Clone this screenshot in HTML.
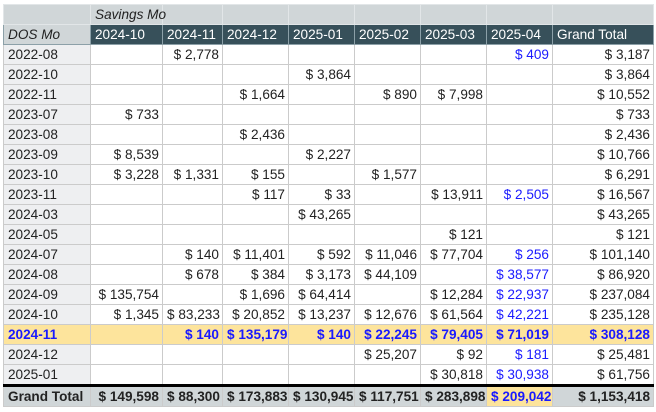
<!DOCTYPE html>
<html><head><meta charset="utf-8"><style>
body{margin:0;width:656px;height:412px;background:#fff;overflow:hidden;font-family:"Liberation Sans",Arial,sans-serif;font-size:13.6px;color:#222}
table{position:absolute;left:3px;top:4px;border-collapse:collapse;table-layout:fixed;width:650px}
td{height:19px;padding:0 3px 0 4px;border:1px solid #cbcbcb;text-align:right;white-space:nowrap;overflow:hidden;line-height:19px}
td:first-child{text-align:left;background:#eeeff1}
tr.h1 td{background:#d0d6d8;border-color:#e2e6e8;text-align:left;font-style:italic}
tr.h1 td.sv{overflow:visible;position:relative;z-index:2}
tr.h2 td{background:#37505a;color:#fff;text-align:left;border-color:#8ca0a8}
tr.h2 td:first-child{background:#d0d6d8;color:#222;font-style:italic}
.b{color:#1a1aff}
tr.hl td{background:#fde49c;color:#1a1aff;font-weight:bold}
tr.gt td{background:#d0d6d8;font-weight:bold;border-top:3px solid #000;height:19px}
tr.gt td.y{background:#fde49c;color:#1a1aff}
</style></head><body>
<table>
<colgroup><col style="width:87px"><col style="width:72px"><col style="width:60px"><col style="width:66px"><col style="width:66px"><col style="width:66px"><col style="width:66px"><col style="width:66px"><col style="width:101px"></colgroup>
<tr class="h1"><td></td><td class="sv">Savings Mo</td><td></td><td></td><td></td><td></td><td></td><td></td><td></td></tr>
<tr class="h2"><td>DOS Mo</td><td>2024-10</td><td>2024-11</td><td>2024-12</td><td>2025-01</td><td>2025-02</td><td>2025-03</td><td>2025-04</td><td>Grand Total</td></tr>
<tr><td>2022-08</td><td></td><td>$ 2,778</td><td></td><td></td><td></td><td></td><td class="b">$ 409</td><td>$ 3,187</td></tr>
<tr><td>2022-10</td><td></td><td></td><td></td><td>$ 3,864</td><td></td><td></td><td></td><td>$ 3,864</td></tr>
<tr><td>2022-11</td><td></td><td></td><td>$ 1,664</td><td></td><td>$ 890</td><td>$ 7,998</td><td></td><td>$ 10,552</td></tr>
<tr><td>2023-07</td><td>$ 733</td><td></td><td></td><td></td><td></td><td></td><td></td><td>$ 733</td></tr>
<tr><td>2023-08</td><td></td><td></td><td>$ 2,436</td><td></td><td></td><td></td><td></td><td>$ 2,436</td></tr>
<tr><td>2023-09</td><td>$ 8,539</td><td></td><td></td><td>$ 2,227</td><td></td><td></td><td></td><td>$ 10,766</td></tr>
<tr><td>2023-10</td><td>$ 3,228</td><td>$ 1,331</td><td>$ 155</td><td></td><td>$ 1,577</td><td></td><td></td><td>$ 6,291</td></tr>
<tr><td>2023-11</td><td></td><td></td><td>$ 117</td><td>$ 33</td><td></td><td>$ 13,911</td><td class="b">$ 2,505</td><td>$ 16,567</td></tr>
<tr><td>2024-03</td><td></td><td></td><td></td><td>$ 43,265</td><td></td><td></td><td></td><td>$ 43,265</td></tr>
<tr><td>2024-05</td><td></td><td></td><td></td><td></td><td></td><td>$ 121</td><td></td><td>$ 121</td></tr>
<tr><td>2024-07</td><td></td><td>$ 140</td><td>$ 11,401</td><td>$ 592</td><td>$ 11,046</td><td>$ 77,704</td><td class="b">$ 256</td><td>$ 101,140</td></tr>
<tr><td>2024-08</td><td></td><td>$ 678</td><td>$ 384</td><td>$ 3,173</td><td>$ 44,109</td><td></td><td class="b">$ 38,577</td><td>$ 86,920</td></tr>
<tr><td>2024-09</td><td>$ 135,754</td><td></td><td>$ 1,696</td><td>$ 64,414</td><td></td><td>$ 12,284</td><td class="b">$ 22,937</td><td>$ 237,084</td></tr>
<tr><td>2024-10</td><td>$ 1,345</td><td>$ 83,233</td><td>$ 20,852</td><td>$ 13,237</td><td>$ 12,676</td><td>$ 61,564</td><td class="b">$ 42,221</td><td>$ 235,128</td></tr>
<tr class="hl"><td>2024-11</td><td></td><td>$ 140</td><td>$ 135,179</td><td>$ 140</td><td>$ 22,245</td><td>$ 79,405</td><td>$ 71,019</td><td>$ 308,128</td></tr>
<tr><td>2024-12</td><td></td><td></td><td></td><td></td><td>$ 25,207</td><td>$ 92</td><td class="b">$ 181</td><td>$ 25,481</td></tr>
<tr><td>2025-01</td><td></td><td></td><td></td><td></td><td></td><td>$ 30,818</td><td class="b">$ 30,938</td><td>$ 61,756</td></tr>
<tr class="gt"><td style="background:#d0d6d8">Grand Total</td><td>$ 149,598</td><td>$ 88,300</td><td>$ 173,883</td><td>$ 130,945</td><td>$ 117,751</td><td>$ 283,898</td><td class="y">$ 209,042</td><td>$ 1,153,418</td></tr>
</table>
</body></html>
